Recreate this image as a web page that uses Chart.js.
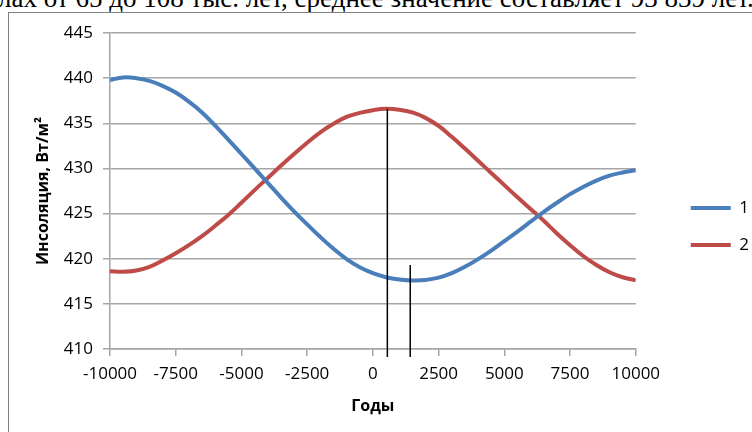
<!DOCTYPE html>
<html lang="ru">
<head>
    <meta charset="UTF-8">
    <title>Инсоляция</title>
    <script src="https://cdn.jsdelivr.net/npm/chart.js"></script>
    <style>
        html, body { margin: 0; padding: 0; background: #fff; overflow: hidden; }
        body { width: 752px; height: 432px; position: relative; }
        .caption {
            position: absolute; left: -2px; top: -15px;
            font: 27px/27px "Liberation Serif", "Times New Roman", serif;
            white-space: nowrap; color: #000;
        }
        .frame {
            position: absolute; left: 8px; top: 12px; width: 800px; height: 500px;
            border: 1.5px solid #808080;
        }
        #chartBox { position: absolute; left: 0; top: 0; width: 752px; height: 432px; }
    </style>
</head>
<body>
    <div class="caption">лах от 65 до 108 тыс. лет, среднее значение составляет 93 839 лет.</div>
    <div class="frame"></div>
    <div id="chartBox"><canvas id="insolChart" width="752" height="432"></canvas></div>

    <script>
        // years (x) and insolation, W/m2, every 500 years
        const years = [-10000, -9500, -9000, -8500, -8000, -7500, -7000, -6500, -6000, -5500,
                       -5000, -4500, -4000, -3500, -3000, -2500, -2000, -1500, -1000, -500,
                       0, 500, 1000, 1500, 2000, 2500, 3000, 3500, 4000, 4500,
                       5000, 5500, 6000, 6500, 7000, 7500, 8000, 8500, 9000, 9500, 10000];
        const series1 = [439.8, 440.08, 440.0, 439.7, 439.15, 438.4, 437.4, 436.2, 434.75, 433.2,
                         431.6, 430.0, 428.4, 426.8, 425.25, 423.8, 422.4, 421.1, 419.95, 419.05,
                         418.4, 417.95, 417.7, 417.6, 417.65, 417.9, 418.4, 419.1, 419.95, 420.9,
                         421.95, 423.0, 424.1, 425.2, 426.2, 427.15, 427.95, 428.65, 429.2, 429.55, 429.8];
        const series2 = [418.6, 418.55, 418.7, 419.1, 419.8, 420.6, 421.5, 422.5, 423.65, 424.85,
                         426.2, 427.6, 428.95, 430.3, 431.6, 432.85, 434.0, 434.95, 435.7, 436.15,
                         436.45, 436.6, 436.5, 436.2, 435.6, 434.7, 433.5, 432.2, 430.85, 429.5,
                         428.15, 426.8, 425.5, 424.2, 422.8, 421.5, 420.3, 419.3, 418.5, 417.95, 417.6];
        const seriesNames = ['1', '2'];

        // vertical marker lines: year and the value where each line starts
        const markerYears = [550, 1420];
        const markerTops = [436.6, 419.3];

        const font = "'Open Sans', 'Liberation Sans', sans-serif";

        const markerLines = {
            id: 'markerLines',
            afterDatasetsDraw(chart) {
                const { ctx, scales: { x, y }, chartArea } = chart;
                ctx.save();
                ctx.strokeStyle = '#000';
                ctx.lineWidth = 1.5;
                markerYears.forEach(function(yr, i) {
                    const px = x.getPixelForValue(yr);
                    ctx.beginPath();
                    ctx.moveTo(px, y.getPixelForValue(markerTops[i]));
                    ctx.lineTo(px, chartArea.bottom + 8);
                    ctx.stroke();
                });
                ctx.restore();
            }
        };

        function toPoints(vals) {
            return vals.map(function(v, i) { return { x: years[i], y: v }; });
        }

        const ctx = document.getElementById('insolChart').getContext('2d');
        new Chart(ctx, {
            type: 'line',
            data: {
                datasets: [{
                    label: seriesNames[0],
                    data: toPoints(series1),
                    borderColor: '#4A7EBB',
                    backgroundColor: '#4A7EBB',
                    borderWidth: 4,
                    pointRadius: 0,
                    tension: 0.4
                }, {
                    label: seriesNames[1],
                    data: toPoints(series2),
                    borderColor: '#BE4B48',
                    backgroundColor: '#BE4B48',
                    borderWidth: 4,
                    pointRadius: 0,
                    tension: 0.4
                }]
            },
            options: {
                responsive: false,
                animation: false,
                layout: { padding: { left: 30, top: 33, right: -7, bottom: 12 } },
                plugins: {
                    tooltip: { enabled: false },
                    legend: {
                        position: 'right',
                        labels: {
                            usePointStyle: true,
                            pointStyle: 'line',
                            pointStyleWidth: 40,
                            color: '#000',
                            padding: 20,
                            font: { family: font, size: 17 }
                        }
                    }
                },
                scales: {
                    x: {
                        type: 'linear',
                        min: -10000,
                        max: 10000,
                        afterFit(scale) { scale.height = 71; },
                        ticks: {
                            stepSize: 2500,
                            color: '#000',
                            padding: 8,
                            maxRotation: 0,
                            font: { family: font, size: 17 },
                            callback: function(v) { return String(v); }
                        },
                        grid: { drawOnChartArea: false, drawTicks: true, tickLength: 7, color: '#a6a6a6', lineWidth: 1.5 },
                        border: { color: '#a6a6a6', width: 1.5 },
                        title: {
                            display: true,
                            text: 'Годы',
                            color: '#000',
                            padding: { top: 4, bottom: 4 },
                            font: { family: font, size: 16, weight: 'bold' }
                        }
                    },
                    y: {
                        min: 410,
                        max: 445,
                        afterFit(scale) { scale.width = 80; },
                        ticks: {
                            stepSize: 5,
                            color: '#000',
                            padding: 10,
                            font: { family: font, size: 17 }
                        },
                        grid: { color: '#a6a6a6', lineWidth: 1.5, tickLength: 7 },
                        border: { color: '#a6a6a6', width: 1.5 },
                        title: {
                            display: true,
                            text: 'Инсоляция, Вт/м²',
                            color: '#000',
                            padding: { top: 4, bottom: 4 },
                            font: { family: font, size: 16, weight: 'bold' }
                        }
                    },
                    // empty spacer between the plot and the legend
                    gap: {
                        position: 'right',
                        afterFit(scale) { scale.width = 35; },
                        ticks: { display: false },
                        grid: { display: false },
                        border: { display: false }
                    }
                }
            },
            plugins: [markerLines]
        });
    </script>
</body>
</html>
